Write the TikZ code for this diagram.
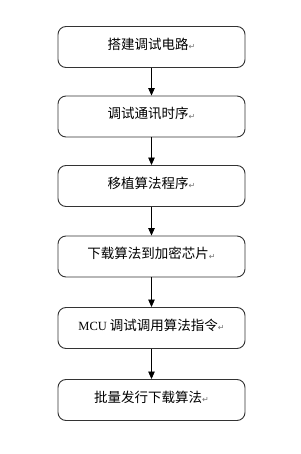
\documentclass[tikz,border=0pt]{standalone}
\usepackage{fontspec}
\setmainfont{Liberation Serif}
\newfontfamily\cjk{Noto Sans CJK SC}
\newfontfamily\symf{DejaVu Sans}
\usetikzlibrary{arrows.meta}
\newcommand{\pmark}{\raisebox{-0.5pt}{\symf\fontsize{8}{8}\selectfont\color{black!55}↵}}
\tikzset{
  stepbox/.style={draw=black!80, line width=0.9pt, rounded corners=8pt,
    minimum width=187pt, minimum height=41pt, inner sep=0pt},
  lbl/.style={font=\cjk\fontsize{13.5}{15}\selectfont, inner sep=0pt},
  conn/.style={-{Triangle[length=7.5pt,width=6.5pt]}, line width=0.8pt, black}
}
\begin{document}
\begin{tikzpicture}[x=1pt,y=1pt]
\useasboundingbox (0,0) rectangle (300,-454);
\fill[white] (0,0) rectangle (300,-454);
\node[stepbox] (b1) at (151.5,-47) {};
\node[stepbox] (b2) at (151.5,-116.5) {};
\node[stepbox] (b3) at (151.5,-186) {};
\node[stepbox] (b4) at (151.5,-256.5) {};
\node[stepbox] (b5) at (151.5,-328) {};
\node[stepbox] (b6) at (151.5,-400) {};
\node[lbl] (t1) at ([yshift=3pt]b1.center) {搭建调试电路\pmark};
\node[lbl] (t2) at ([yshift=3pt]b2.center) {调试通讯时序\pmark};
\node[lbl] (t3) at ([yshift=3pt]b3.center) {移植算法程序\pmark};
\node[lbl] (t4) at ([yshift=3pt]b4.center) {下载算法到加密芯片\pmark};
\node[lbl] (t5) at ([yshift=3pt]b5.center) {{\fontspec{Liberation Serif}\fontsize{12.5}{15}\selectfont MCU} 调试调用算法指令\pmark};
\node[lbl] (t6) at ([yshift=3pt]b6.center) {批量发行下载算法\pmark};
\draw[conn] (b1) -- (b2);
\draw[conn] (b2) -- (b3);
\draw[conn] (b3) -- (b4);
\draw[conn] (b4) -- (b5);
\draw[conn] (b5) -- (b6);
\end{tikzpicture}
\end{document}
